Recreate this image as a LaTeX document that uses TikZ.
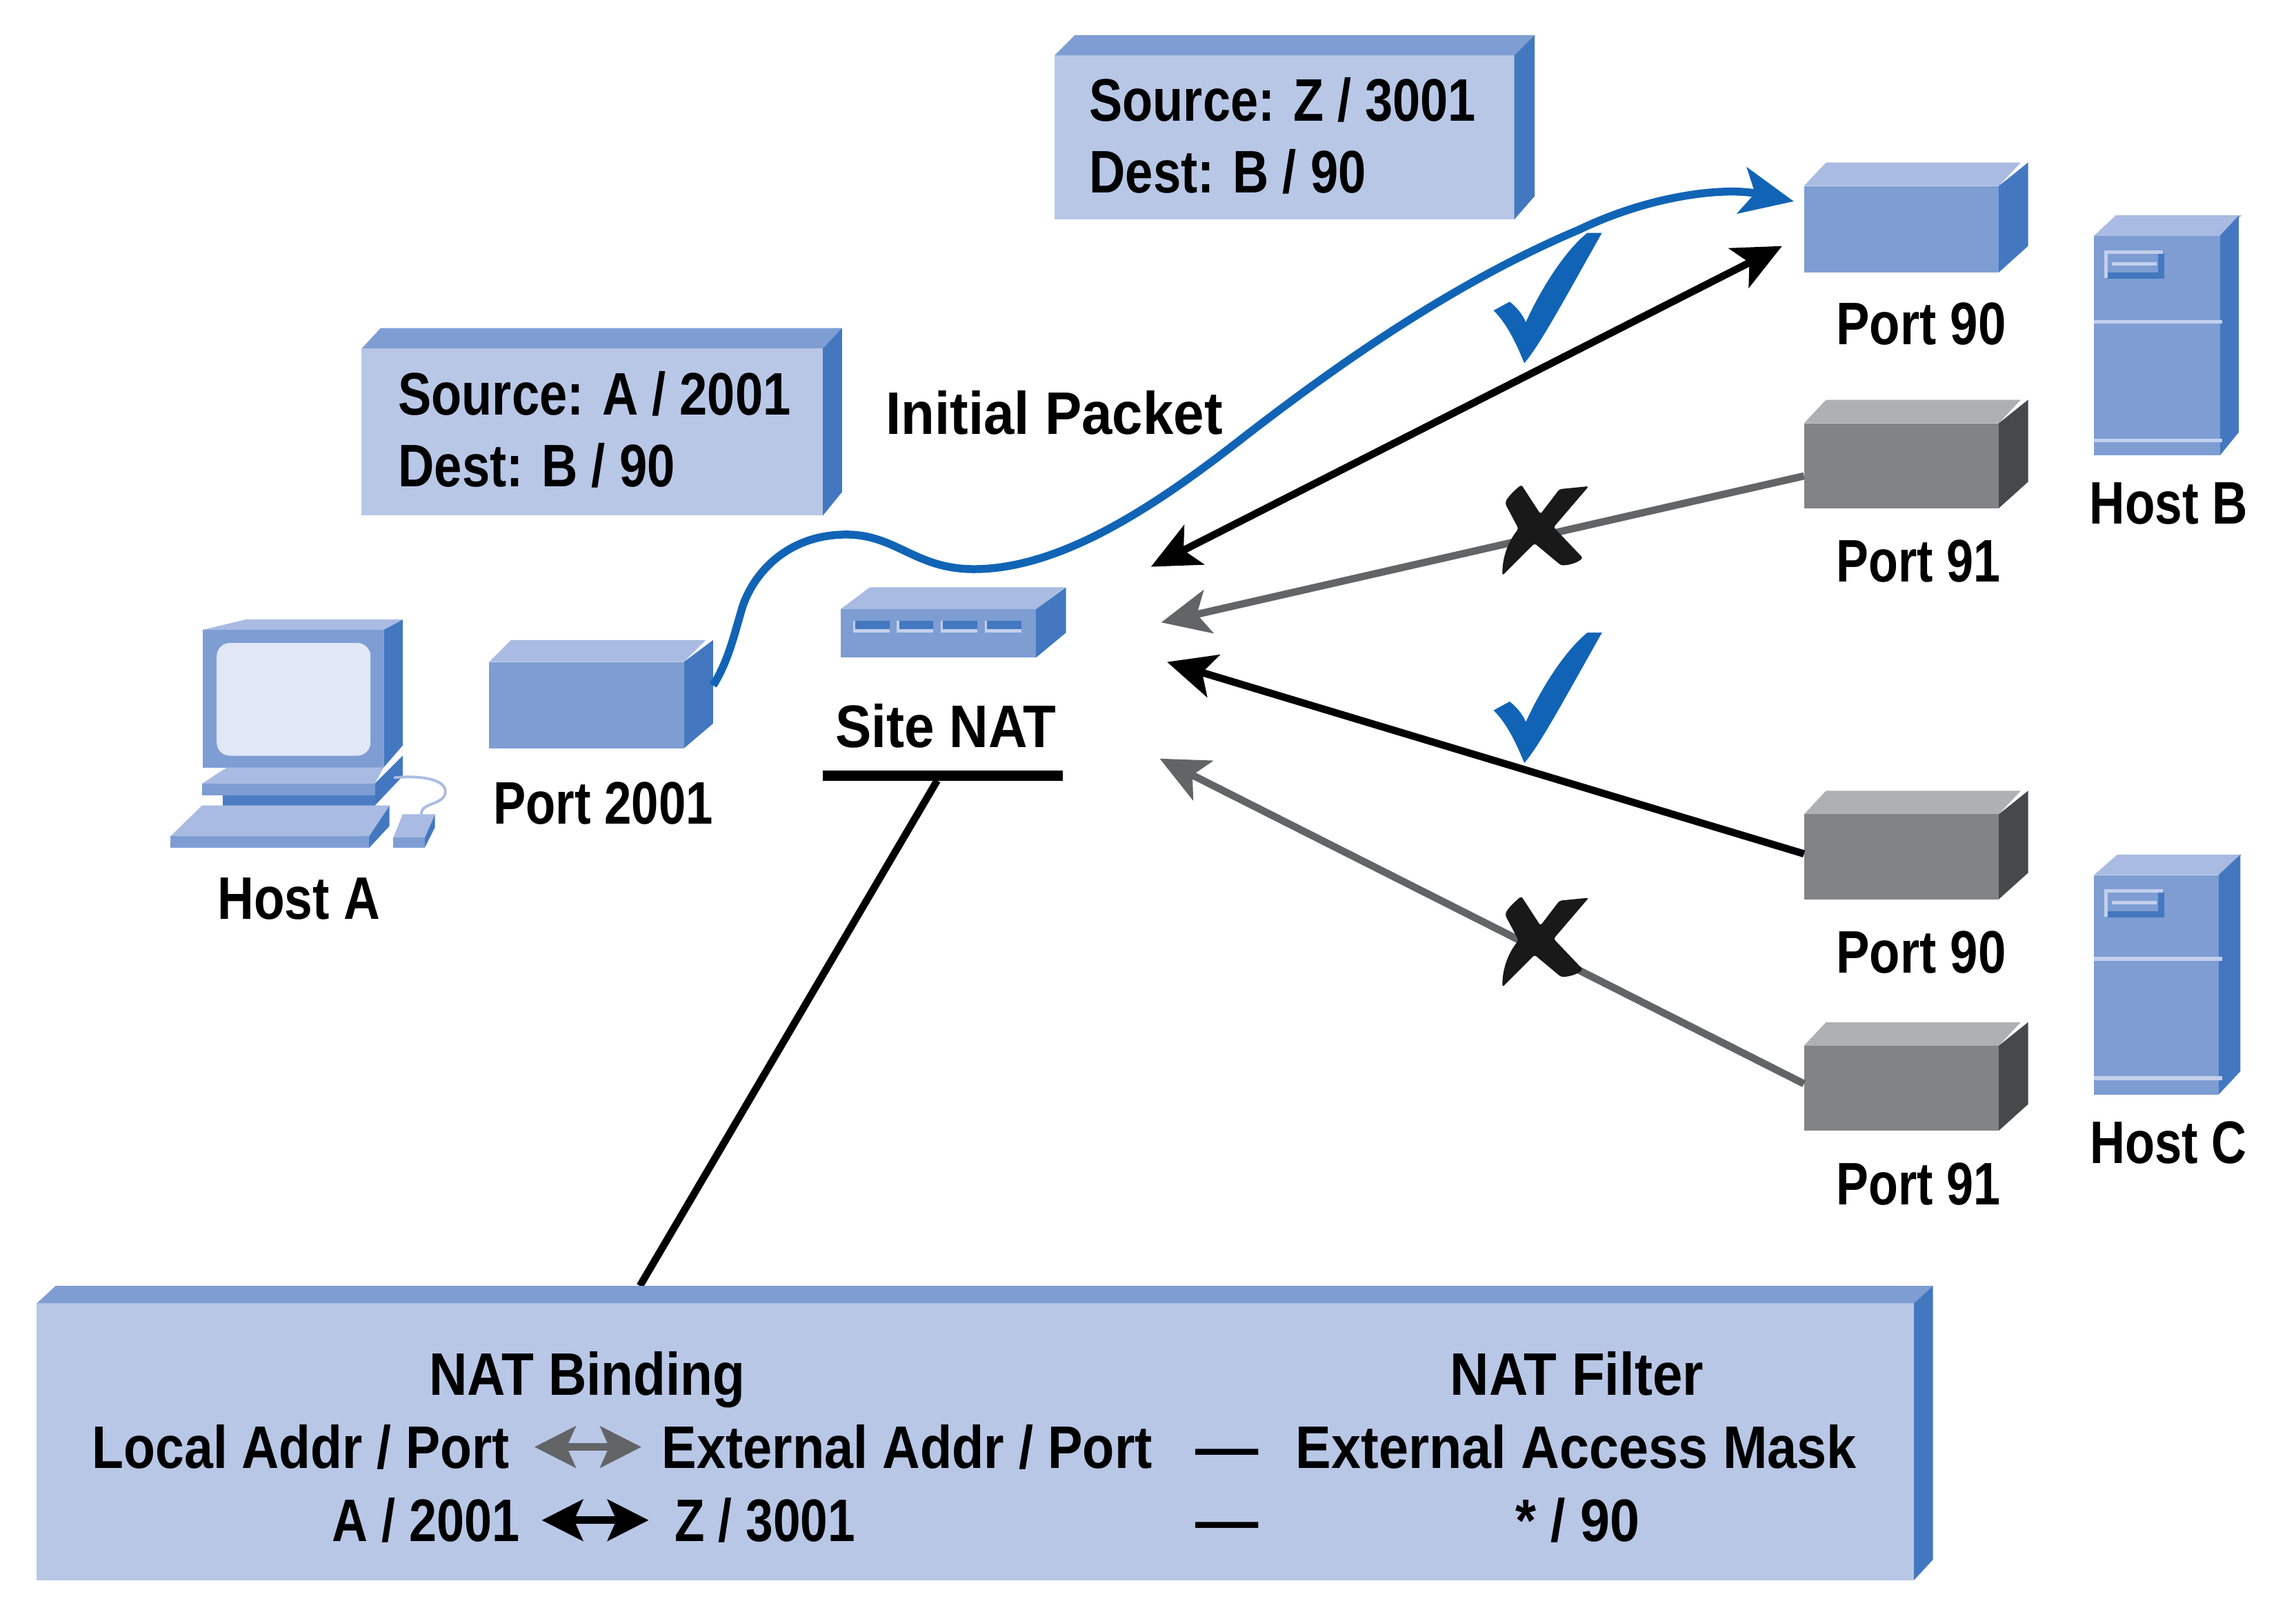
\documentclass[tikz,border=0pt]{standalone}
\usepackage{fontspec}
\setmainfont{Liberation Sans}
\usetikzlibrary{arrows.meta}
\definecolor{pale}{HTML}{B8C7E6}
\definecolor{mid}{HTML}{7E9DD3}
\definecolor{lite}{HTML}{A9BBE2}
\definecolor{deep}{HTML}{4378C1}
\definecolor{screen}{HTML}{E1E7F6}
\definecolor{gfront}{HTML}{828386}
\definecolor{gtop}{HTML}{AEB0B3}
\definecolor{gside}{HTML}{474849}
\definecolor{wire}{HTML}{1164B5}
\definecolor{greyline}{HTML}{636466}
\tikzset{
  x=1pt,y=-1pt,
  lbl/.style={font=\bfseries\fontsize{41}{48}\selectfont,text=black,inner sep=0pt,outer sep=0pt,anchor=base,yshift=0.5pt},
  lblw/.style={lbl,anchor=base west},
  face/.style={inner sep=0pt,outer sep=0pt,draw=none},
  flow/.style={line width=5pt,{Stealth[length=33pt,width=30pt,inset=8pt]}-{Stealth[length=33pt,width=30pt,inset=8pt]}},
  oneway/.style={line width=5pt,-{Stealth[length=33pt,width=30pt,inset=8pt]}},
  keyarrow/.style={line width=5pt,{Stealth[length=28pt,width=28pt,inset=6pt]}-{Stealth[length=28pt,width=28pt,inset=6pt]}},
  curve/.style={line width=5.4pt,color=wire,-{Stealth[length=36pt,width=32pt,inset=9pt]}},
}
\newcommand{\fit}[2]{\resizebox{#1pt}{\height}{#2}}
\newcommand{\solid}[9]{%
  \fill[#9] (#2+#4,#3) -- (#2+#4+#6,#3-#7) -- (#2+#4+#6,#3+#5-#7-2) -- (#2+#4,#3+#5) -- cycle;
  \node[face,fill=#8,minimum width=#4pt,minimum height=#5pt,anchor=north west] (#1) at (#2,#3) {};
}
\newcommand{\topface}[6]{\fill[#6] (#1,#2) -- (#1+#4,#2-#5) -- (#1+#3+#4,#2-#5) -- (#1+#3,#2) -- cycle;}
\newcommand{\panelbox}[2]{%
  \fill[deep] (#1+2,#2+15) rectangle (#1+41,#2+19.5);
  \fill[deep] (#1+37,#2+2) rectangle (#1+41,#2+19.5);
  \fill[lite!70!white] (#1,#2) rectangle (#1+40,#2+2.5);
  \fill[lite!70!white] (#1,#2) rectangle (#1+2.5,#2+19);
  \fill[lite!70!white] (#1+5,#2+8) rectangle (#1+36,#2+10.5);
}
\newcommand{\checkmk}[1]{\fill[wire,shift={(0,#1)}] (1094,159) .. controls (1068,205) and (1052,235) .. (1041,248)
   .. controls (1036,236) and (1030,222) .. (1020,212) -- (1031,206) .. controls (1036,210) and (1040,215) .. (1042,220)
   .. controls (1052,198) and (1068,172) .. (1084,159) -- cycle;}
\newcommand{\crossmk}[1]{\fill[black!90,rounded corners=1.5pt,shift={(0,#1)}] (1028,344) .. controls (1029,340) and (1034,335) .. (1039,331) -- (1052,351) -- (1065,334) -- (1085,332) -- (1061,360) -- (1081,381) .. controls (1076,385) and (1070,386) .. (1066,386) -- (1048,371) -- (1026,393) .. controls (1026,380) and (1030,370) .. (1037,361) -- cycle;}
\begin{document}
\begin{tikzpicture}
\useasboundingbox (0,0) rectangle (1568,1105);
\fill[white] (0,0) rectangle (1568,1105);

% callout boxes
\topface{720}{38}{314}{14}{14}{mid}
\solid{boxz}{720}{38}{314}{112}{14}{14}{pale}{deep}
\topface{247}{238}{315}{13}{14}{mid}
\solid{boxa}{247}{238}{315}{114}{13}{14}{pale}{deep}

% ports
\topface{1232}{127}{133}{15}{16}{lite}
\solid{pb}{1232}{127}{133}{59}{20}{16}{mid}{deep}
\topface{1232}{289}{133}{15}{16}{gtop}
\solid{pc}{1232}{289}{133}{58}{20}{16}{gfront}{gside}
\topface{1232}{556}{133}{15}{16}{gtop}
\solid{pd}{1232}{556}{133}{58}{20}{16}{gfront}{gside}
\topface{1232}{714}{133}{15}{16}{gtop}
\solid{pe}{1232}{714}{133}{58}{20}{16}{gfront}{gside}
\topface{334}{452}{133}{15}{15}{lite}
\solid{pa}{334}{452}{133}{59}{20}{15}{mid}{deep}

% servers
\topface{1430}{161}{86}{15}{14}{lite}
\solid{hostb}{1430}{161}{86}{150}{13}{14}{mid}{deep}
\fill[lite!70!white] (1430,218.5) rectangle (1517.5,221);
\fill[lite!70!white] (1430,299.5) rectangle (1517.5,302);
\panelbox{1437}{171}
\topface{1430}{597.5}{85}{16}{14}{lite}
\solid{hostc}{1430}{597.5}{85}{150}{15}{14}{mid}{deep}
\fill[lite!70!white] (1430,653.5) rectangle (1517.5,656);
\fill[lite!70!white] (1430,735) rectangle (1517.5,737.5);
\panelbox{1437}{607}

% site NAT switch
\topface{574}{416}{133.5}{20}{15}{lite}
\solid{nat}{574}{416}{133.5}{33}{20.5}{15}{mid}{deep}
\foreach \px in {582.5,612.5,642.5,672.5}{
  \fill[lite!70!white] (\px,424) rectangle (\px+25,432);
  \fill[deep] (\px+1.5,424) rectangle (\px+25,429.5);
}

% host A computer
\fill[deep] (262,430) -- (275,423) -- (275,509) -- (262,524) -- cycle;
\fill[lite] (138.5,430) -- (168,423) -- (275,423) -- (262,430) -- cycle;
\node[face,fill=mid,minimum width=123.5pt,minimum height=94pt,anchor=north west] (hosta) at (138.5,430) {};
\fill[screen,rounded corners=9pt] (148,439) rectangle (253,516);
\fill[mid] (155,524) rectangle (256,535);
\fill[deep] (256,535) -- (275,516) -- (275,530) -- (256,550) -- cycle;
\fill[lite] (155,524) -- (138,535) -- (256,535) -- (262,524) -- cycle;
\fill[mid] (138,535) rectangle (256,543);
\fill[deep!85!mid] (152,543) rectangle (256,550);
\fill[deep] (252,571) -- (266,550) -- (266,564) -- (252,579) -- cycle;
\fill[lite] (138,550) -- (116.5,571) -- (252,571) -- (266,550) -- cycle;
\fill[mid] (116.5,571) rectangle (252,579);
\draw[line width=1.8pt,color=lite] (269,531) .. controls (290,529) and (306,533) .. (304,542) .. controls (302,550) and (286,548) .. (288,557);
\fill[deep] (290,572) -- (297,556) -- (297,565) -- (290,579) -- cycle;
\fill[lite] (275,556) -- (268.6,572) -- (290,572) -- (297,556) -- cycle;
\fill[mid] (268.6,572) rectangle (290,579);

% bottom panel
\coordinate (barfoot) at (640,533);
\coordinate (panelfoot) at (437,878);
\draw[line width=5pt,black] (barfoot) -- (panelfoot);
\fill[black] (562,526) rectangle (726,533);
\topface{25}{890}{1282}{13}{12}{mid}
\solid{panel}{25}{890}{1282}{189}{13}{12}{pale}{deep}

% connectors
\coordinate (n1) at (786,387);
\coordinate (n1b) at (1217,168);
\coordinate (n2) at (793,425);
\coordinate (n3) at (797,452);
\coordinate (n4) at (792,518);
\draw[flow,black] (n1) -- (n1b);
\draw[oneway,greyline] ([yshift=-7pt]pc.west) -- (n2);
\draw[oneway,black] ([yshift=2pt]pd.west) -- (n3);
\draw[oneway,greyline] ([yshift=3pt]pe.west) -- (n4);
\coordinate (c0) at (487,468);
\coordinate (c1) at (506,418);
\coordinate (c2) at (578,365);
\coordinate (c3) at (665,388.6);
\coordinate (c4) at (850,298);
\coordinate (c5) at (1078,157);
\coordinate (c6) at (1225,137.5);
\draw[curve] (c0) .. controls (497,452) and (501,435) .. (c1) .. controls (512,395) and (535,365) .. (c2) .. controls (612,365) and (625,388.6) .. (c3) .. controls (725,388.6) and (790,345) .. (c4) .. controls (925,240) and (1000,190) .. (c5) .. controls (1130,132) and (1180,128) .. (c6);

\checkmk{0}
\checkmk{273}
\crossmk{0}
\crossmk{281}

% labels
\node[lblw] (t1) at (744,83) {\fit{264}{Source: Z / 3001}};
\node[lblw] (t2) at (744,132) {\fit{189}{Dest: B / 90}};
\node[lblw] (t3) at (272,284) {\fit{268}{Source: A / 2001}};
\node[lblw] (t4) at (272,333) {\fit{189}{Dest: B / 90}};
\node[lblw] (t5) at (605,297) {\fit{230}{Initial Packet}};
\node[lbl] (t6) at (1312,236) {\fit{116}{Port 90}};
\node[lbl] (t7) at (1310,398) {\fit{112}{Port 91}};
\node[lbl] (t8) at (1481,358) {\fit{108}{Host B}};
\node[lbl] (t9) at (1312,665) {\fit{116}{Port 90}};
\node[lbl] (t10) at (1310,823) {\fit{112}{Port 91}};
\node[lbl] (t11) at (1481,795) {\fit{107}{Host C}};
\node[lbl] (t12) at (412,563) {\fit{150}{Port 2001}};
\node[lbl] (t13) at (646,511) {\fit{151}{Site NAT}};
\node[lbl] (t14) at (204,628) {\fit{111}{Host A}};
\node[lbl] (t15) at (401,953) {\fit{216}{NAT Binding}};
\node[lbl] (t16) at (1077,953) {\fit{173}{NAT Filter}};
\node[lblw] (t17) at (63,1003) {\fit{285}{Local Addr / Port}};
\node[lblw] (t18) at (452,1003) {\fit{335}{External Addr / Port}};
\node[lbl] (t19) at (838,1003) {\fit{43}{—}};
\node[lblw] (t20) at (885,1003) {\fit{383}{External Access Mask}};
\node[lblw] (t21) at (227,1053) {\fit{128}{A / 2001}};
\node[lblw] (t22) at (461,1053) {\fit{123}{Z / 3001}};
\node[lbl] (t23) at (838,1053) {\fit{43}{—}};
\node[lblw] (t24) at (1035,1053) {\fit{85}{* / 90}};
\coordinate (ka) at (365,988);
\coordinate (kb) at (438,988);
\coordinate (kc) at (370,1038);
\coordinate (kd) at (443,1038);
\draw[keyarrow,greyline] (ka) -- (kb);
\draw[keyarrow,black] (kc) -- (kd);
\end{tikzpicture}
\end{document}
